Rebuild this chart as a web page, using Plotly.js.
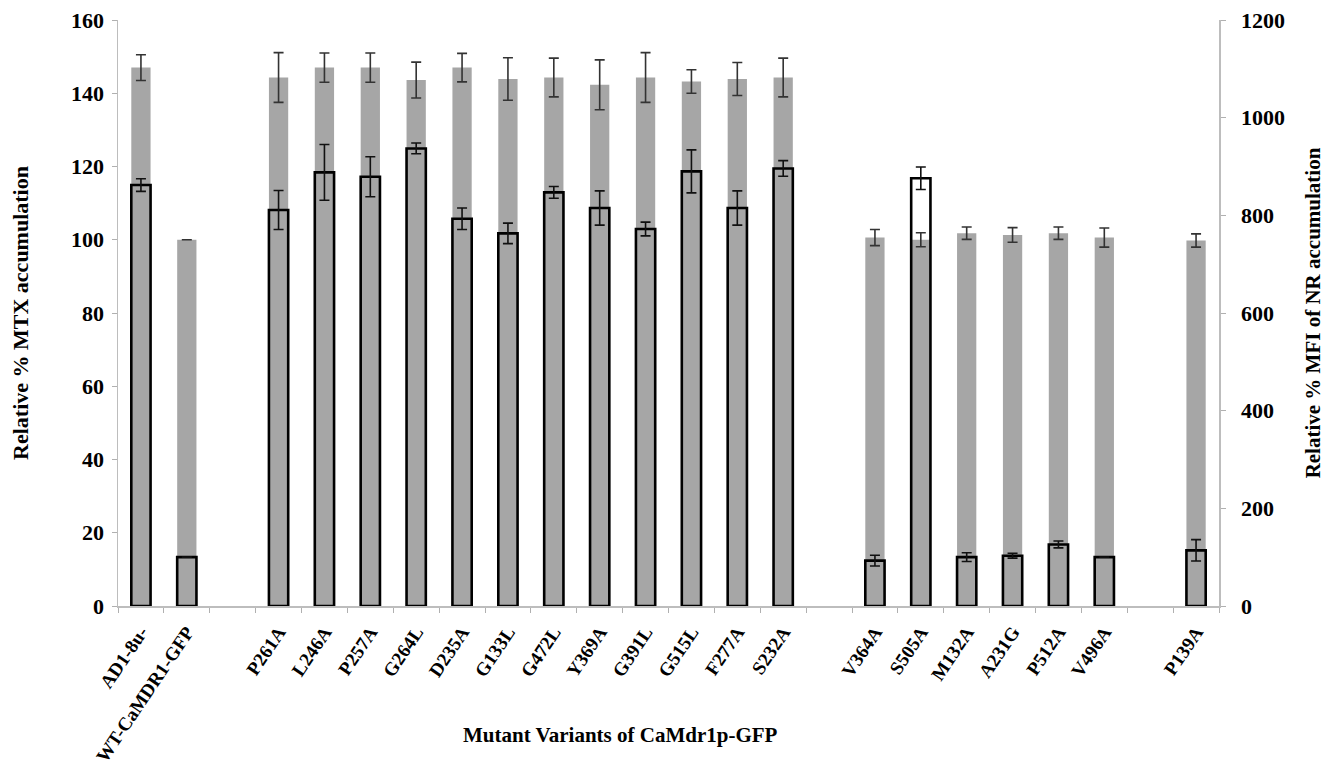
<!DOCTYPE html>
<html>
<head>
<meta charset="utf-8">
<script src="https://cdn.plot.ly/plotly-3.0.1.min.js"></script>
<style>
html,body{margin:0;padding:0;background:#fff;}
#chart{width:1332px;height:762px;}
</style>
</head>
<body>
<div id="chart"></div>
<script>
// Categories (blank entries are the empty slots between groups)
const categories = ["AD1-8u-", "WT-CaMDR1-GFP", "\u00a0",
  "P261A", "L246A", "P257A", "G264L", "D235A", "G133L", "G472L", "Y369A", "G391L", "G515L", "F277A", "S232A",
  "\u00a0\u00a0",
  "V364A", "S505A", "M132A", "A231G", "P512A", "V496A",
  "\u00a0\u00a0\u00a0",
  "P139A"];

// Relative % MTX accumulation (left axis)
const mtxValues = [147.0, 100.0, null,
  144.3, 147.0, 147.0, 143.6, 147.0, 143.9, 144.3, 142.3, 144.3, 143.2, 143.9, 144.3,
  null,
  100.6, 100.0, 101.8, 101.3, 101.8, 100.6,
  null,
  99.8];
const mtxErrors = [3.5, 0, null,
  6.8, 4.0, 4.0, 4.9, 3.9, 5.8, 5.3, 6.8, 6.8, 3.2, 4.5, 5.3,
  null,
  2.2, 1.9, 1.7, 2.0, 1.7, 2.6,
  null,
  1.8];

// Relative % MFI of NR accumulation (right axis)
const nrValues = [862, 100, null,
  811, 888, 879, 937, 793, 763, 847, 815, 772, 890, 815, 896,
  null,
  93, 876, 100, 103, 126, 100,
  null,
  114];
const nrErrors = [13, 0, null,
  40, 57, 41, 11, 22, 21, 12, 35, 14, 44, 35, 16,
  null,
  11, 23, 9, 5, 7, 0,
  null,
  22];

const xTitle = "Mutant Variants of CaMdr1p-GFP";
const yTitle = "Relative % MTX accumulation";
const y2Title = "Relative % MFI of NR accumulation";

const serif = "Liberation Serif, Times New Roman, serif";

const traces = [
  {
    type: "bar",
    name: "MTX",
    x: categories,
    y: mtxValues,
    yaxis: "y",
    width: 0.42,
    marker: {color: "#a6a6a6", line: {width: 0}},
    error_y: {type: "data", array: mtxErrors, visible: true, color: "#333333", thickness: 1.6, width: 5},
    hoverinfo: "x+y"
  },
  {
    type: "bar",
    name: "NR",
    x: categories,
    y: nrValues,
    yaxis: "y2",
    width: 0.42,
    marker: {color: "rgba(0,0,0,0)", line: {width: 2.6, color: "#000000"}},
    error_y: {type: "data", array: nrErrors, visible: true, color: "#111111", thickness: 1.6, width: 5},
    hoverinfo: "x+y"
  }
];

const layout = {
  width: 1332,
  height: 762,
  margin: {l: 118, r: 113, t: 20, b: 156},
  paper_bgcolor: "#ffffff",
  plot_bgcolor: "#ffffff",
  showlegend: false,
  barmode: "overlay",
  font: {family: serif, color: "#000"},
  xaxis: {
    type: "category",
    categoryorder: "array",
    categoryarray: categories,
    tickson: "boundaries",
    ticks: "outside",
    ticklen: 5,
    tickcolor: "#b0b0b0",
    showline: true,
    linecolor: "#bdbdbd",
    linewidth: 1.5,
    showgrid: false,
    zeroline: false,
    tickangle: -56,
    ticklabelstandoff: 6,
    tickfont: {family: serif, size: 19, weight: "bold", color: "#000"},
    automargin: false
  },
  yaxis: {
    range: [0, 160],
    dtick: 20,
    ticks: "outside",
    ticklen: 5,
    tickcolor: "#b0b0b0",
    showline: true,
    linecolor: "#bdbdbd",
    linewidth: 1.5,
    showgrid: false,
    zeroline: false,
    ticklabelstandoff: 3,
    tickfont: {family: serif, size: 22, weight: "bold", color: "#000"},
    title: {text: yTitle, font: {family: serif, size: 22, weight: "bold", color: "#000"}, standoff: 36},
    automargin: false
  },
  yaxis2: {
    range: [0, 1200],
    dtick: 200,
    overlaying: "y",
    side: "right",
    ticks: "outside",
    ticklen: 5,
    tickcolor: "#b0b0b0",
    showline: true,
    linecolor: "#bdbdbd",
    linewidth: 1.5,
    showgrid: false,
    zeroline: false,
    ticklabelstandoff: 11,
    tickfont: {family: serif, size: 22, weight: "bold", color: "#000"},
    title: {text: y2Title, font: {family: serif, size: 21, weight: "bold", color: "#000"}, standoff: 21},
    automargin: false
  },
  annotations: [{
    text: xTitle,
    xref: "paper", yref: "paper",
    x: (620 - 118) / 1101, y: -(735 - 606) / 586,
    xanchor: "center", yanchor: "middle",
    showarrow: false,
    font: {family: serif, size: 21, weight: "bold", color: "#000"}
  }]
};

Plotly.newPlot("chart", traces, layout, {displayModeBar: false, staticPlot: true});
</script>
</body>
</html>
